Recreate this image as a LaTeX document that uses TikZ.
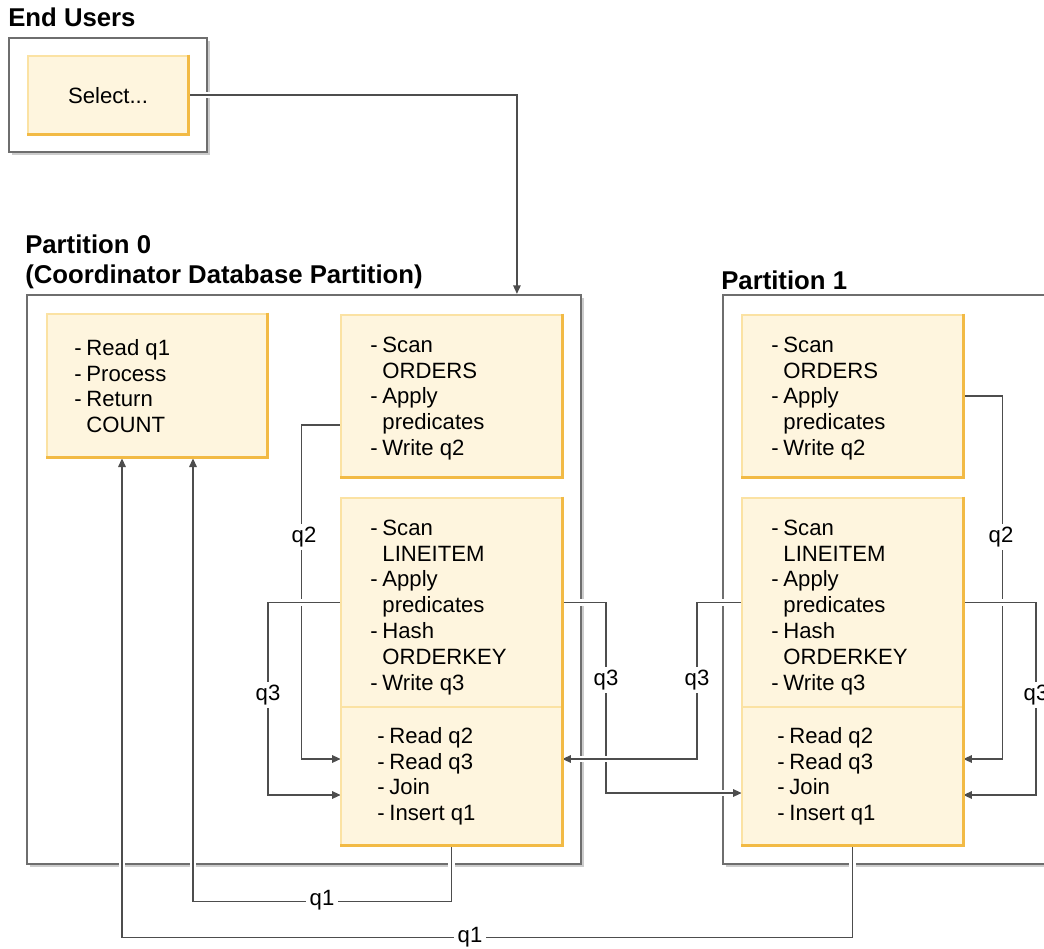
\documentclass[tikz,border=0pt]{standalone}
\usepackage{fontspec}
\setmainfont{Liberation Sans}
\usetikzlibrary{arrows.meta,calc,fit,shadows}
\definecolor{yfill}{HTML}{FEF5DE}
\definecolor{ylight}{HTML}{FBE2A3}
\definecolor{yorange}{HTML}{F2BA45}
\definecolor{pborder}{HTML}{6E6E6E}
\definecolor{lcol}{HTML}{4D4D4D}
\pgfdeclarelayer{bg}
\pgfdeclarelayer{mid}
\pgfsetlayers{bg,mid,main}
\newcommand\txt{\fontsize{16.6}{19.35}\selectfont}
\newenvironment{dlist}{\begin{tabular}{@{}l@{\hspace{3.6pt}}l@{}}}{\end{tabular}}
\tikzset{
  ybox/.style={draw=ylight, fill=yfill, line width=2pt, inner sep=0pt},
  yhide/.style={inner sep=0pt},
  obord/.style={draw=yorange, line width=2.8pt},
  part/.style={draw=pborder, line width=1.6pt, fill=white, inner sep=0pt,
    drop shadow={shadow xshift=2.5pt, shadow yshift=-2.5pt, fill=black!20, opacity=1}},
  conn/.style={draw=lcol, line width=1.2pt, -{Triangle[length=6.5pt,width=5.6pt]}},
  halo/.style={draw=white, line width=5pt, shorten <=4pt, shorten >=4pt},
  qlab/.style={fill=white, inner sep=2.5pt, font=\txt},
  tblock/.style={anchor=north west, inner sep=0pt, font=\txt},
  title/.style={anchor=base west, inner sep=0pt, font=\fontsize{19.3}{22}\selectfont\bfseries},
}
\newcommand\qlink[1]{\draw[halo] #1; \draw[conn] #1;}
\begin{document}
\begin{tikzpicture}[x=0.75pt,y=-0.75pt]
\useasboundingbox (0,0) rectangle (1044,948);
% titles
\node[title] (tEU) at (8,27) {End Users};
\node[title] (tP0) at (25,253) {Partition 0};
\node[title] (tP0b) at (25,283) {(Coordinator Database Partition)};
\node[title] (tP1) at (721,289) {Partition 1};
% frames
\begin{pgfonlayer}{bg}
\node[part, fit={(9,38) (207,152)}] (eu) {};
\node[part, fit={(27,295) (581,864)}] (p0) {};
\node[part, fit={(723,295) (1070,864)}] (p1) {};
\end{pgfonlayer}
% yellow boxes
\node[ybox, fit={(28,56) (188,134)}] (sel) {};
\node[ybox, fit={(47,314) (267,457)}] (A) {};
\node[ybox, fit={(341,315) (562,477)}] (B) {};
\node[ybox, fit={(341,498) (562,845)}] (C) {};
\node[yhide, fit={(341,498) (562,707)}] (C1) {};
\node[yhide, fit={(341,707) (562,845)}] (C2) {};
\node[ybox, fit={(742,315) (963,477)}] (D) {};
\node[ybox, fit={(742,498) (963,845)}] (E) {};
\node[yhide, fit={(742,498) (963,707)}] (E1) {};
\node[yhide, fit={(742,707) (963,845)}] (E2) {};
\draw[draw=ylight, line width=1.4pt] (C1.south west) -- (C1.south east);
\draw[draw=ylight, line width=1.4pt] (E1.south west) -- (E1.south east);
\foreach \n in {sel,A,B,C,D,E}
  \draw[obord] ([xshift=-0.6pt]\n.north east) -- ([xshift=-0.6pt,yshift=0.6pt]\n.south east) -- ([yshift=0.6pt]\n.south west);
% texts
\node[font=\txt, inner sep=0pt] (tsel) at ($(sel.center)+(0,1)$) {Select...};
\node[tblock] (tA) at (74,337) {\begin{dlist}- & Read q1\\- & Process\\- & Return\\ & COUNT\end{dlist}};
\node[tblock] (tB) at (370,334) {\begin{dlist}- & Scan\\ & ORDERS\\- & Apply\\ & predicates\\- & Write q2\end{dlist}};
\node[tblock] (tC1) at (370,517) {\begin{dlist}- & Scan\\ & LINEITEM\\- & Apply\\ & predicates\\- & Hash\\ & ORDERKEY\\- & Write q3\end{dlist}};
\node[tblock] (tC2) at (377,725) {\begin{dlist}- & Read q2\\- & Read q3\\- & Join\\- & Insert q1\end{dlist}};
\node[tblock] (tD) at (771,334) {\begin{dlist}- & Scan\\ & ORDERS\\- & Apply\\ & predicates\\- & Write q2\end{dlist}};
\node[tblock] (tE1) at (771,517) {\begin{dlist}- & Scan\\ & LINEITEM\\- & Apply\\ & predicates\\- & Hash\\ & ORDERKEY\\- & Write q3\end{dlist}};
\node[tblock] (tE2) at (777,725) {\begin{dlist}- & Read q2\\- & Read q3\\- & Join\\- & Insert q1\end{dlist}};
% connectors
\begin{pgfonlayer}{mid}
\qlink{(sel.east) -| ($(p0.north west)+(491,0)$)}
\qlink{($(B.west)+(0,29)$) -- ++(-38,0) |- ($(C2.west)+(0,-17)$)}
\qlink{(C1.west) -- ++(-73,0) |- ($(C2.west)+(0,19)$)}
\qlink{(C1.east) -- ++(44,0) |- ($(E2.west)+(0,17)$)}
\qlink{(E1.west) -- ++(-45,0) |- ($(C2.east)+(0,-17)$)}
\qlink{(D.east) -- ++(38,0) |- ($(E2.east)+(0,-17)$)}
\qlink{(E1.east) -- ++(73,0) |- ($(E2.east)+(0,19)$)}
\qlink{(C.south) -- ++(0,55) -| ($(A.south)+(36,0)$)}
\qlink{(E.south) -- ++(0,91) -| ($(A.south)+(-35,0)$)}
\node[qlab] (l1) at (304,537) {q2};
\node[qlab] (l2) at (268,695) {q3};
\node[qlab] (l3) at (606,680) {q3};
\node[qlab] (l4) at (697,680) {q3};
\node[qlab] (l5) at (1001,537) {q2};
\node[qlab] (l6) at (1036,695) {q3};
\node[qlab] (l7) at (322,900) {q1};
\node[qlab] (l8) at (470,937) {q1};
\end{pgfonlayer}
\end{tikzpicture}
\end{document}
